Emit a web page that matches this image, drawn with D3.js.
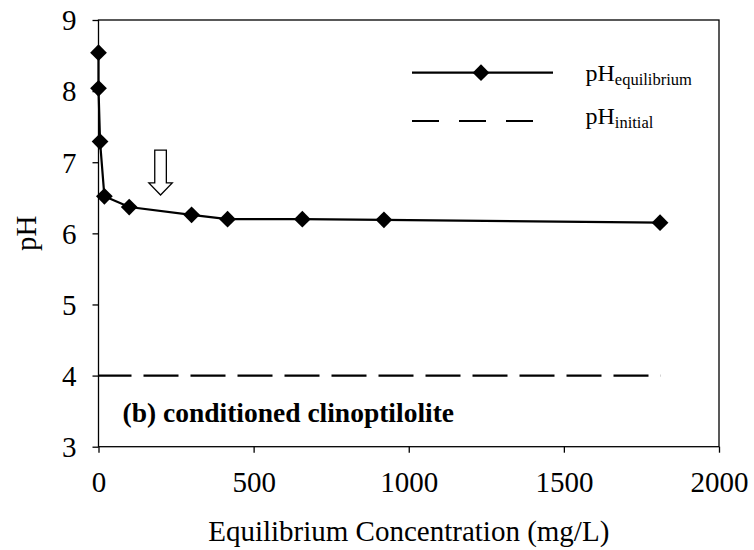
<!DOCTYPE html>
<html>
<head>
<meta charset="utf-8">
<script src="https://cdn.jsdelivr.net/npm/d3@7"></script>
</head>
<body style="margin:0;background:#fff;font-family:'Liberation Serif'">
<svg id="grafico" width="754" height="550" font-family="Liberation Serif" style="display:block"></svg>
<script>
'use strict';

// dados
const concentracao = [0, 0, 5, 19, 99, 300, 416, 657, 920, 1810]
const phEquilibrio = [8.54, 8.04, 7.29, 6.52, 6.37, 6.26, 6.20, 6.20, 6.19, 6.15]
const phInicial = 4
const phInicialX = [0, 1812]
const xTicks = [0, 500, 1000, 1500, 2000]
const yTicks = [3, 4, 5, 6, 7, 8, 9]
const seta = {x: 200, topo: 7.17, ponta: 6.54}
const rotulo = '(b) conditioned clinoptilolite'

const fonte = 'Liberation Serif'
const largura = 754, altura = 550
const margem = {esq: 98.5, dir: 35, topo: 20, base: 103.3}

const svg = d3.select('#grafico')

const x = d3.scaleLinear().domain([0, 2000]).range([margem.esq, largura - margem.dir])
const y = d3.scaleLinear().domain([3, 9]).range([altura - margem.base, margem.topo])

// caixa do gráfico
svg.append('rect')
    .attr('x', x(0)).attr('y', y(9))
    .attr('width', x(2000) - x(0)).attr('height', y(3) - y(9))
    .attr('fill', 'none').attr('stroke', '#000').attr('stroke-width', 1.3)

const eixoX = svg.append('g')
    .attr('transform', `translate(0, ${y(3)})`)
    .call(d3.axisBottom(x).tickValues(xTicks).tickSize(6).tickPadding(12).tickFormat(d3.format('d')))
const eixoY = svg.append('g')
    .attr('transform', `translate(${x(0)}, 0)`)
    .call(d3.axisLeft(y).tickValues(yTicks).tickSize(6).tickPadding(16).tickFormat(d3.format('d')))

for (const eixo of [eixoX, eixoY]) {
    eixo.attr('font-family', fonte).attr('font-size', 29)
    eixo.select('.domain').remove()
    eixo.selectAll('line').attr('stroke', '#000').attr('stroke-width', 1.3)
    eixo.selectAll('text').attr('fill', '#000').attr('font-family', fonte)
}
eixoY.selectAll('text').attr('dy', '0.34em')
eixoX.selectAll('text').attr('dy', '0.95em')

// títulos dos eixos
svg.append('text')
    .attr('x', (x(0) + x(2000)) / 2).attr('y', 541)
    .attr('text-anchor', 'middle')
    .attr('font-family', fonte).attr('font-size', 29)
    .text('Equilibrium Concentration (mg/L)')
svg.append('text')
    .attr('transform', `translate(36, ${(y(3) + y(9)) / 2}) rotate(-90)`)
    .attr('text-anchor', 'middle')
    .attr('font-family', fonte).attr('font-size', 29)
    .text('pH')

// linha do pH inicial
svg.append('line')
    .attr('x1', x(phInicialX[0])).attr('x2', x(phInicialX[1]))
    .attr('y1', y(phInicial)).attr('y2', y(phInicial))
    .attr('stroke', '#000').attr('stroke-width', 2.2)
    .attr('stroke-dasharray', '35,12')
    .attr('stroke-dashoffset', 2)

// série pH de equilíbrio
const pontos = concentracao.map((c, i) => ({x: c, y: phEquilibrio[i]}))
const linha = d3.line().x(d => x(d.x)).y(d => y(d.y))
svg.append('path')
    .attr('d', linha(pontos))
    .attr('fill', 'none').attr('stroke', '#000').attr('stroke-width', 2.2)

const diamante = d3.symbol().type(d3.symbolSquare).size(140)
svg.selectAll('path.ponto').data(pontos).enter().append('path')
    .attr('class', 'ponto')
    .attr('d', diamante)
    .attr('transform', d => `translate(${x(d.x)}, ${y(d.y)}) rotate(45)`)
    .attr('fill', '#000')

// seta vazada
const sx = x(seta.x), yTopo = y(seta.topo), yPonta = y(seta.ponta)
const meiaHaste = 5.8, meiaCabeca = 11.7, alturaCabeca = 12
svg.append('path')
    .attr('d', `M${sx - meiaHaste},${yTopo} L${sx + meiaHaste},${yTopo} L${sx + meiaHaste},${yPonta - alturaCabeca} L${sx + meiaCabeca},${yPonta - alturaCabeca} L${sx},${yPonta} L${sx - meiaCabeca},${yPonta - alturaCabeca} L${sx - meiaHaste},${yPonta - alturaCabeca} Z`)
    .attr('fill', '#fff').attr('stroke', '#000').attr('stroke-width', 1.3)

// rótulo
svg.append('text')
    .attr('x', 122.5).attr('y', 421.5)
    .attr('font-family', fonte).attr('font-size', 27.5).attr('font-weight', 'bold')
    .text(rotulo)

// legenda
const legenda = svg.append('g').attr('font-family', fonte)
const itens = [
    {sub: 'equilibrium', y: 72.7, textoY: 81, tracejado: null, marcador: true},
    {sub: 'initial', y: 121, textoY: 123.5, tracejado: '27,20', marcador: false}
]
for (const item of itens) {
    legenda.append('line')
        .attr('x1', 412).attr('x2', 553)
        .attr('y1', item.y).attr('y2', item.y)
        .attr('stroke', '#000').attr('stroke-width', 2.2)
        .attr('stroke-dasharray', item.tracejado)
    if (item.marcador) {
        legenda.append('path')
            .attr('d', diamante)
            .attr('transform', `translate(481, ${item.y}) rotate(45)`)
            .attr('fill', '#000')
    }
    const t = legenda.append('text')
        .attr('x', 585.5).attr('y', item.textoY)
        .attr('font-size', 24)
    t.append('tspan').text('pH')
    t.append('tspan').attr('dy', 4).attr('font-size', 16.5).text(item.sub)
}
</script>
</body>
</html>
